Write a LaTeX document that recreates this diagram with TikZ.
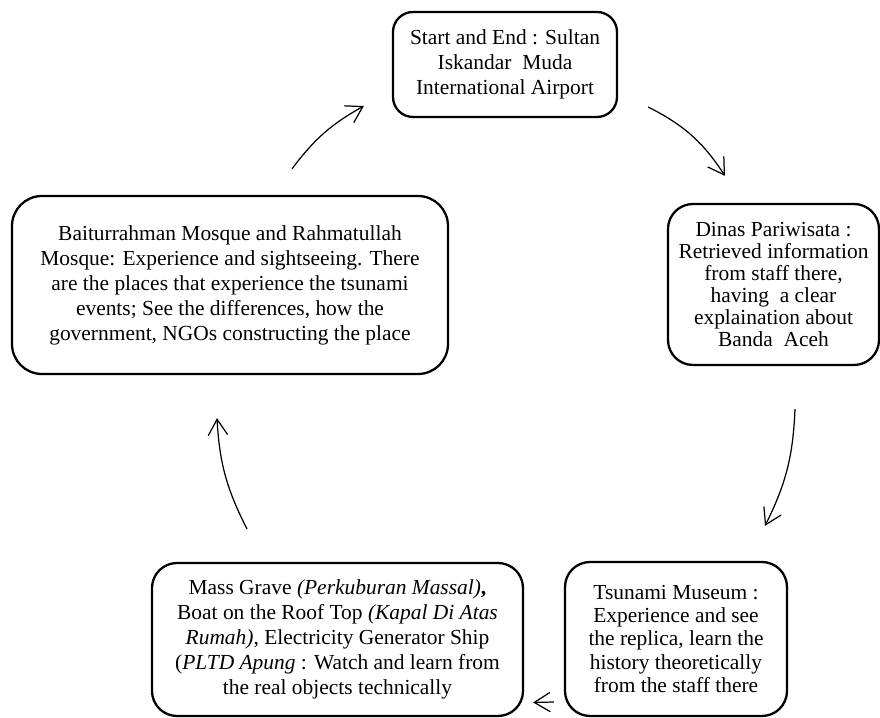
\documentclass[tikz,border=0pt]{standalone}
\usepackage{fontspec}
\setmainfont{Liberation Serif}
\usetikzlibrary{arrows.meta}

\begin{document}
\begin{tikzpicture}[
    place/.style={rectangle, rounded corners=0.5cm, draw=black, line width=1.3pt, align=center, inner sep=0pt, font=\fontsize{12.2}{14.2}\selectfont},
    flow/.style={-{Straight Barb[length=9pt, width=11pt]}, line width=0.7pt},
]
    \useasboundingbox (0,0) rectangle (17.6,-14.36);

    % Stops of the trip
    \node[place, minimum width=4.48cm, minimum height=2.1cm, rounded corners=0.4cm] (airport) at (10.1,-1.29) {
        Start and End : Sultan\\
        Iskandar~ Muda\\
        International Airport
    };

    \node[place, minimum width=4.22cm, minimum height=3.22cm, font=\fontsize{12.2}{12.5}\selectfont] (dinas) at (15.47,-5.69) {
        Dinas Pariwisata :\\
        Retrieved information\\
        from staff there,\\
        having~ a clear\\
        explaination about\\
        Banda~ Aceh
    };

    \node[place, minimum width=4.44cm, minimum height=3.08cm, font=\fontsize{12.2}{13.3}\selectfont] (museum) at (13.52,-12.78) {
        Tsunami Museum :\\
        Experience and see\\
        the replica, learn the\\
        history theoretically\\
        from the staff there
    };

    \node[place, minimum width=7.42cm, minimum height=3.06cm] (grave) at (6.75,-12.79) {
        Mass Grave \textit{(Perkuburan Massal)}\textbf{,}\\
        Boat on the Roof Top \textit{(Kapal Di Atas}\\
        \textit{Rumah)}, Electricity Generator Ship\\
        (\textit{PLTD Apung} : Watch and learn from\\
        the real objects technically
    };

    \node[place, minimum width=8.72cm, minimum height=3.56cm, rounded corners=0.6cm] (mosque) at (4.6,-5.7) {
        Baiturrahman Mosque and Rahmatullah\\
        Mosque: Experience and sightseeing. There\\
        are the places that experience the tsunami\\
        events; See the differences, how the\\
        government, NGOs constructing the place
    };

    % Route
    \draw[flow] ([xshift=0.6cm, yshift=-0.85cm]airport.east) to[bend left=15] ([xshift=-0.97cm, yshift=0.54cm]dinas.north);
    \draw[flow] ([xshift=0.43cm, yshift=-0.86cm]dinas.south) to[bend left=12] ([xshift=1.78cm, yshift=0.7cm]museum.north);
    \draw[flow] ([xshift=-0.2cm, yshift=-1.26cm]museum.west) -- ([xshift=0.18cm, yshift=-1.26cm]grave.east);
    \draw[flow] ([xshift=-1.81cm, yshift=0.66cm]grave.north) to[bend left=12] ([xshift=-0.26cm, yshift=-0.86cm]mosque.south);
    \draw[flow] ([xshift=1.24cm, yshift=0.52cm]mosque.north) to[bend left=12] ([xshift=-0.56cm, yshift=-0.83cm]airport.west);
\end{tikzpicture}
\end{document}
